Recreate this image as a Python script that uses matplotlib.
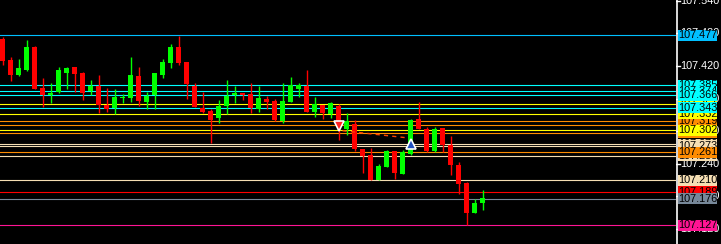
import matplotlib
matplotlib.use("Agg")
import matplotlib.pyplot as plt
from matplotlib.patches import Rectangle
import numpy as np

# candle data (one bar every slot, oldest first)
opens = [107.470, 107.431, 107.404, 107.413, 107.455, 107.379, 107.367, 107.373, 107.408, 107.418,
         107.407, 107.374, 107.384, 107.348, 107.342, 107.361, 107.362, 107.402, 107.354, 107.367,
         107.404, 107.426, 107.455, 107.427, 107.384, 107.343, 107.337, 107.325, 107.347, 107.367,
         107.370, 107.368, 107.340, 107.359, 107.356, 107.319, 107.354, 107.378, 107.383, 107.336,
         107.348, 107.332, 107.346, 107.305, 107.314, 107.267, 107.256, 107.210, 107.234, 107.264,
         107.221, 107.258, 107.323, 107.304, 107.264, 107.306, 107.275, 107.238, 107.205, 107.150,
         107.168]
highs = [107.474, 107.436, 107.433, 107.468, 107.457, 107.398, 107.389, 107.418, 107.418, 107.418,
         107.409, 107.394, 107.403, 107.380, 107.378, 107.368, 107.437, 107.418, 107.373, 107.407,
         107.433, 107.460, 107.476, 107.427, 107.388, 107.372, 107.340, 107.357, 107.394, 107.384,
         107.370, 107.388, 107.384, 107.365, 107.359, 107.389, 107.400, 107.389, 107.413, 107.363,
         107.348, 107.354, 107.350, 107.334, 107.321, 107.267, 107.269, 107.240, 107.266, 107.264,
         107.266, 107.323, 107.354, 107.308, 107.308, 107.306, 107.291, 107.243, 107.207, 107.175,
         107.192]
lows = [107.421, 107.393, 107.402, 107.411, 107.378, 107.345, 107.352, 107.371, 107.378, 107.373,
        107.358, 107.367, 107.333, 107.336, 107.332, 107.352, 107.354, 107.347, 107.340, 107.341,
        107.398, 107.417, 107.422, 107.360, 107.345, 107.334, 107.278, 107.316, 107.332, 107.352,
        107.358, 107.334, 107.336, 107.341, 107.319, 107.316, 107.354, 107.363, 107.336, 107.327,
        107.323, 107.325, 107.284, 107.293, 107.263, 107.224, 107.210, 107.210, 107.234, 107.212,
        107.221, 107.256, 107.304, 107.262, 107.262, 107.262, 107.220, 107.185, 107.128, 107.150,
        107.155]
closes = [107.430, 107.403, 107.416, 107.455, 107.378, 107.367, 107.370, 107.413, 107.416, 107.406,
          107.371, 107.384, 107.348, 107.341, 107.363, 107.361, 107.403, 107.356, 107.365, 107.407,
          107.427, 107.455, 107.426, 107.387, 107.345, 107.336, 107.321, 107.346, 107.365, 107.370,
          107.367, 107.342, 107.361, 107.354, 107.321, 107.356, 107.385, 107.385, 107.336, 107.351,
          107.334, 107.352, 107.316, 107.318, 107.268, 107.254, 107.210, 107.236, 107.264, 107.223,
          107.262, 107.321, 107.304, 107.264, 107.304, 107.275, 107.238, 107.203, 107.150, 107.168,
          107.177]

# horizontal levels and their colours
levels = [107.477, 107.385, 107.374, 107.366, 107.351, 107.343, 107.332, 107.319, 107.311, 107.302,
          107.297, 107.276, 107.273, 107.261, 107.255, 107.210, 107.189, 107.176, 107.127]
level_colors = ["#00BFFF", "#00FFFF", "#00FFFF", "#00FFFF", "#FFFF00", "#00FFFF", "#FFFF00", "#FF8C00",
                "#FF8C00", "#FFFF00", "#FF8C00", "#F5DEB3", "#F5DEB3", "#FF8C00", "#F5DEB3", "#F5DEB3",
                "#FF0000", "#778899", "#FF1493"]
# which label ends up on top (drawn last)
label_order = [107.311, 107.319, 107.332, 107.297, 107.302, 107.276, 107.273, 107.255, 107.261,
               107.351, 107.385, 107.374, 107.366, 107.343, 107.477, 107.210, 107.189, 107.176, 107.127]

price_ticks = [107.540, 107.480, 107.420, 107.360, 107.300, 107.240, 107.180, 107.120]

# trade marks: entry, exit
trade_x = [42, 51]
trade_y = [107.310, 107.277]
trade_line_x = [42.5, 50.5]
trade_line_y = [107.301, 107.288]

W, H = 721, 244
plot_w = 676
ymin, ymax = 107.0926, 107.5414
px_per_unit = H / (ymax - ymin)

fig = plt.figure(figsize=(W / 100, H / 100), dpi=100, facecolor="black")
ax = fig.add_axes([0, 0, plot_w / W, 1])
ax.set_facecolor("black")
ax.set_xlim(-0.3125, (plot_w - 2.5) / 8)
ax.set_ylim(ymin, ymax)
ax.axis("off")

# levels
for p, c in zip(levels, level_colors):
    ax.axhline(p, color=c, lw=0.8, zorder=1)

o = np.array(opens); h = np.array(highs); l = np.array(lows); c = np.array(closes)
x = np.arange(len(o))
up = c >= o
cols = np.where(up, "#00FF00", "#FF0000")
ax.vlines(x, l, h, colors=cols, lw=1.0, zorder=3)
body = np.maximum(np.abs(c - o), 1.2 / px_per_unit)
ax.bar(x, body, bottom=np.minimum(o, c), width=0.62, color=cols, lw=0, zorder=4)

# trade
ax.plot(trade_line_x, trade_line_y, color="#FF4500", lw=1.0, ls=(0, (3, 3)), zorder=5)
ax.plot(trade_x[0], trade_y[0], marker="v", ms=7, color="#FF2020", mec="white", mew=1.2, zorder=6)
ax.plot(trade_x[1], trade_y[1], marker="^", ms=7, color="#2050C0", mec="white", mew=1.2, zorder=6)

# price scale column
ax2 = fig.add_axes([plot_w / W, 0, (W - plot_w) / W, 1])
ax2.set_facecolor("black")
ax2.set_xlim(0, W - plot_w)
ax2.set_ylim(ymin, ymax)
ax2.axis("off")
ax2.axvline(0.5, color="white", lw=1.2)

font = dict(family=["Liberation Sans Narrow", "Liberation Sans", "DejaVu Sans"], fontsize=7.8)
for t in price_ticks:
    ax2.plot([0, 3.5], [t, t], color="white", lw=1.0, zorder=1)
    ax2.text(4.5, t, f"{t:.3f}", color="white", va="center", ha="left", zorder=1, **font)

bh = 11 / px_per_unit
for z, p in enumerate(label_order):
    col = level_colors[levels.index(p)]
    ax2.add_patch(Rectangle((2, p - bh / 2), 39, bh, facecolor=col, edgecolor="none", zorder=10 + 2 * z))
    ax2.text(21.5, p, f"{p:.3f}", color="black", ha="center", va="center", zorder=11 + 2 * z, **font)

fig.savefig("out.png", dpi=100, facecolor="black")
